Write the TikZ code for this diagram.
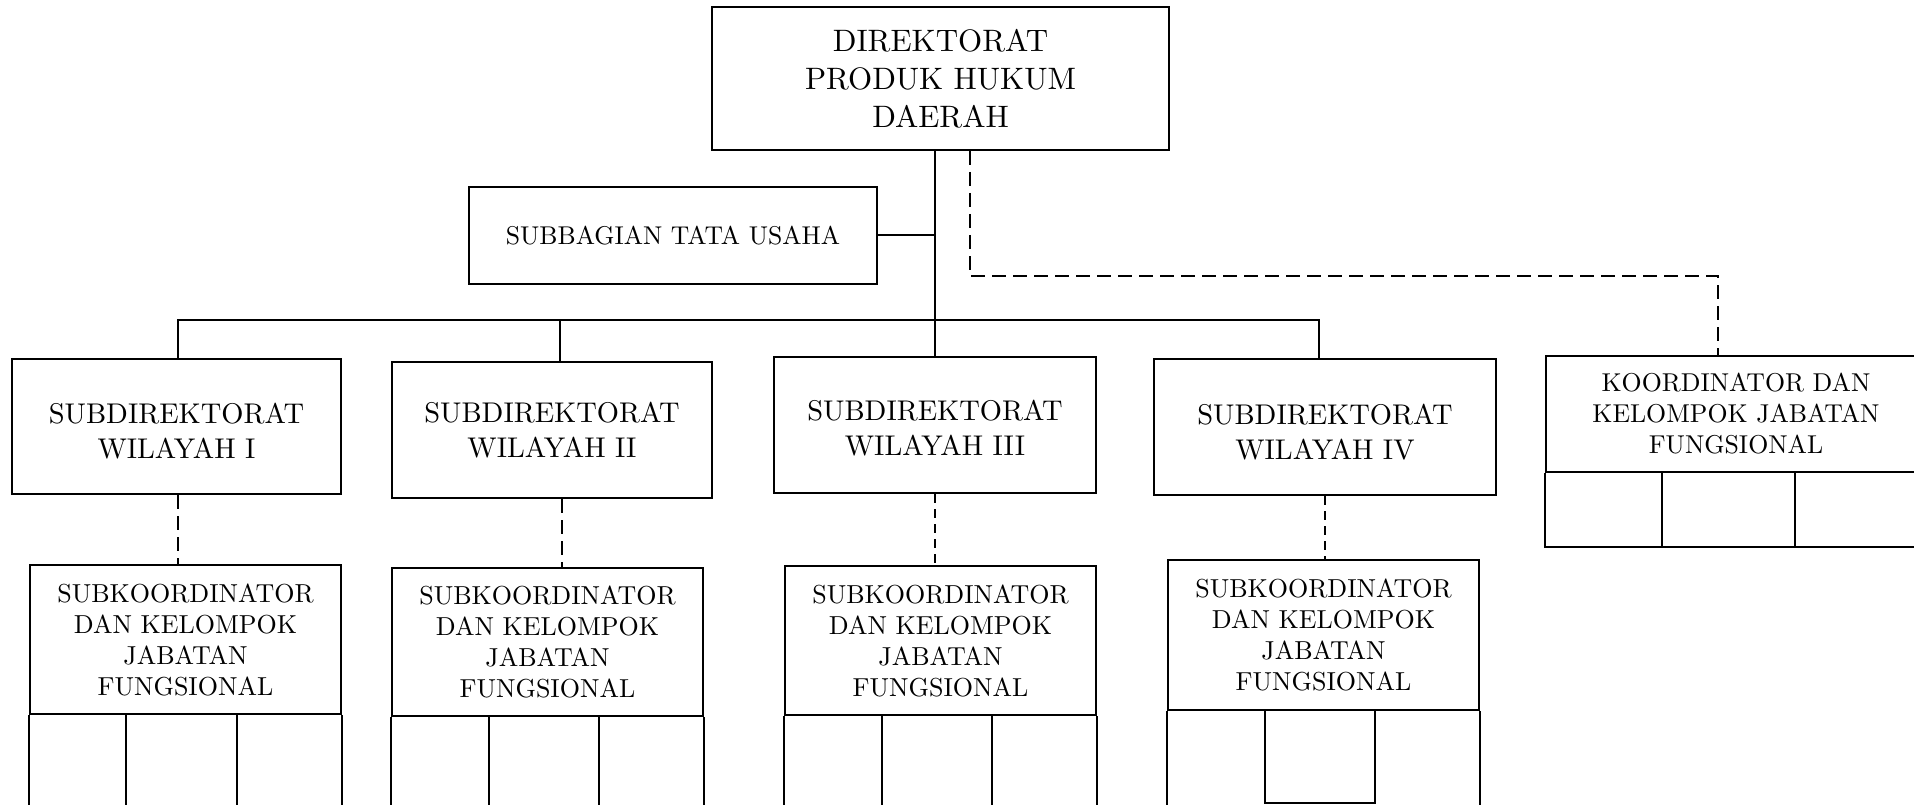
\documentclass[tikz,border=0pt]{standalone}
\usepackage{fontspec}
\setmainfont{lmroman10-regular}[Extension=.otf]
\begin{document}
\begin{tikzpicture}[x=1pt,y=-1pt,line width=2pt,
  box/.style={draw, rectangle, align=center, inner sep=0pt, line width=2pt},
  conn/.style={line width=2pt},
  dashlong/.style={line width=2pt, dash pattern=on 14pt off 7pt},
  dashshort/.style={line width=2pt, dash pattern=on 9pt off 6pt},
  fdir/.style={font=\fontsize{31}{38}\selectfont},
  fsub/.style={font=\fontsize{28.5}{35}\selectfont},
  ftu/.style={font=\fontsize{25.7}{30}\selectfont},
  fko/.style={font=\fontsize{26}{31}\selectfont},
  fkf/.style={font=\fontsize{25.8}{31}\selectfont}]
\useasboundingbox (0,0) rectangle (1914,805);
\clip (0,0) rectangle (1914,805);

% main boxes
\node[box,fdir,minimum width=457pt,minimum height=143pt] (dir) at (940.5,78.5) {DIREKTORAT\\PRODUK HUKUM\\DAERAH};
\node[box,ftu,minimum width=408pt,minimum height=97pt] (tu) at (673,235.5) {SUBBAGIAN TATA USAHA};

\node[box,fsub,minimum width=329pt,minimum height=135pt] (s1) at (176.5,426.5) {\rule{0pt}{30pt}SUBDIREKTORAT\\WILAYAH I};
\node[box,fsub,minimum width=320pt,minimum height=136pt] (s2) at (552,430) {SUBDIREKTORAT\\WILAYAH II};
\node[box,fsub,minimum width=322pt,minimum height=136pt] (s3) at (935,425) {\rule{0pt}{26pt}SUBDIREKTORAT\\WILAYAH III};
\node[box,fsub,minimum width=342pt,minimum height=136pt] (s4) at (1325,427) {\rule{0pt}{30pt}SUBDIREKTORAT\\WILAYAH IV};

\node[box,fko,minimum width=311pt,minimum height=149pt] (k1) at (185.5,639.5) {SUBKOORDINATOR\\DAN KELOMPOK\\JABATAN\\FUNGSIONAL};
\node[box,fko,minimum width=311pt,minimum height=148pt] (k2) at (547.5,642) {SUBKOORDINATOR\\DAN KELOMPOK\\JABATAN\\FUNGSIONAL};
\node[box,fko,minimum width=311pt,minimum height=149pt] (k3) at (940.5,640.5) {SUBKOORDINATOR\\DAN KELOMPOK\\JABATAN\\FUNGSIONAL};
\node[box,fko,minimum width=311pt,minimum height=150pt] (k4) at (1323.5,635) {SUBKOORDINATOR\\DAN KELOMPOK\\JABATAN\\FUNGSIONAL};
\node[box,fkf,minimum width=380pt,minimum height=116pt] (kf) at (1736,414) {KOORDINATOR DAN\\KELOMPOK JABATAN\\FUNGSIONAL};

% bus coordinates
\coordinate (b1) at (178,320);
\coordinate (b2) at (560,320);
\coordinate (b4) at (1319,320);

% solid connectors
\draw[conn] (dir.south -| s3.north) -- (s3.north);
\draw[conn] (tu.east) -- (tu.east -| s3.north);
\draw[conn] (b1 |- s1.north) -- (b1) -- (b4) -- (b4 |- s4.north);
\draw[conn] (b2) -- (b2 |- s2.north);

% dashed connectors
\draw[dashlong] ([xshift=29.5pt]dir.south) -- ++(0,125) -| ([xshift=-18pt]kf.north);
\draw[dashlong] (s1.south -| b1) -- (k1.north -| b1);
\draw[dashlong] ([xshift=10pt]s2.south) -- ([xshift=14.5pt]k2.north);
\draw[dashshort] (s3.south) -- (s3.south |- k3.north);
\draw[dashshort] (s4.south) -- (s4.south |- k4.north);

% cells below sub-coordinator boxes
\draw[conn] (k1.south west) -- ++(0,110);
\draw[conn] (k1.south east) -- ++(0,110);
\draw[conn] (126,714) -- ++(0,110);
\draw[conn] (237,714) -- ++(0,110);

\draw[conn] (k2.south west) -- ++(0,110);
\draw[conn] (k2.south east) -- ++(0,110);
\draw[conn] (489,716) -- ++(0,110);
\draw[conn] (599,716) -- ++(0,110);

\draw[conn] (k3.south west) -- ++(0,110);
\draw[conn] (k3.south east) -- ++(0,110);
\draw[conn] (882,715) -- ++(0,110);
\draw[conn] (992,715) -- ++(0,110);

\draw[conn] (k4.south west) -- ++(0,110);
\draw[conn] (k4.south east) -- ++(0,110);
\draw[conn] (1265,710) rectangle (1375,803);

% cells below coordinator box
\draw[conn] (kf.south west) -- ++(0,74) -- ++(400,0);
\draw[conn] (1662,472) -- ++(0,74);
\draw[conn] (1795,472) -- ++(0,74);
\end{tikzpicture}
\end{document}
